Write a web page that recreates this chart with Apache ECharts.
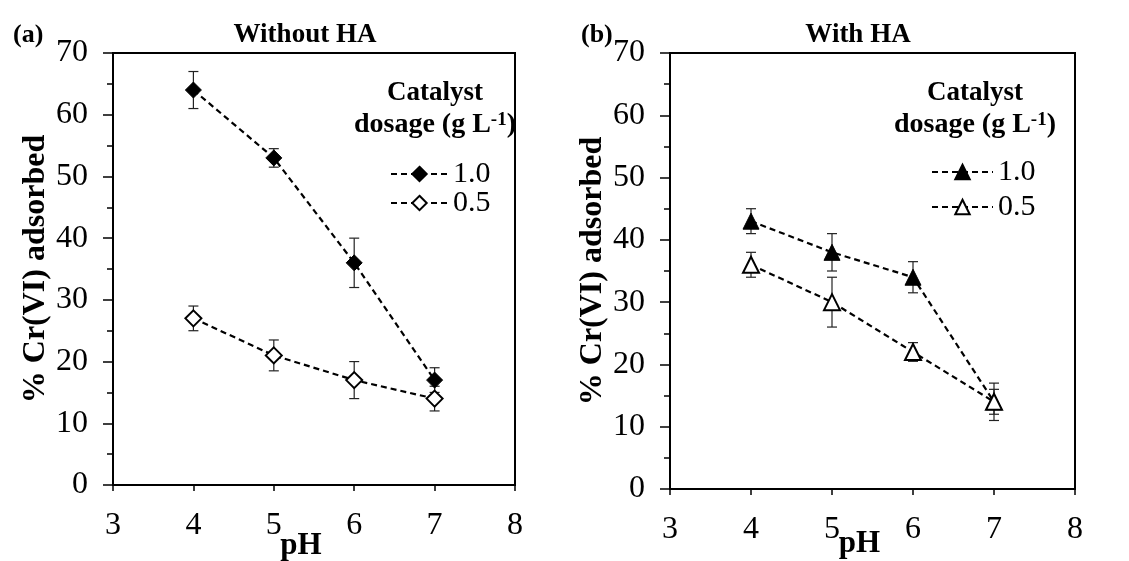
<!DOCTYPE html>
<html>
<head>
<meta charset="utf-8">
<script src="https://cdn.jsdelivr.net/npm/echarts@6/dist/echarts.min.js"></script>
<style>
  html, body { margin: 0; padding: 0; background: #fff; }
  #chart { width: 1129px; height: 561px; }
</style>
</head>
<body>
<div id="chart"></div>
<script>
// pH values shared by both panels
const pH = [4, 5, 6, 7];

// Panel (a): without humic acid, % Cr(VI) adsorbed and error half-widths
const noHA_1_0 = [64, 53, 36, 17];
const noHA_1_0_err = [3, 1.5, 4, 2];
const noHA_0_5 = [27, 21, 17, 14];
const noHA_0_5_err = [2, 2.5, 3, 2];

// Panel (b): with humic acid
const HA_1_0 = [43, 38, 34, 14];
const HA_1_0_err = [2, 3, 2.5, 3];
const HA_0_5 = [36, 30, 22, 14];
const HA_0_5_err = [2, 4, 1.5, 2];

// Legend labels (catalyst dosage, g/L)
const dosageLabels = ['1.0', '0.5'];

const FONT = '"Liberation Serif", "Times New Roman", serif';

function pairs(xs, ys) { return xs.map((x, i) => [x, ys[i]]); }

function errorBars(axisIdx, values, errs) {
  return {
    type: 'custom',
    xAxisIndex: axisIdx,
    yAxisIndex: axisIdx,
    silent: true,
    z: 1,
    encode: { x: 0, y: [1, 2] },
    data: pH.map((x, i) => [x, values[i] - errs[i], values[i] + errs[i]]),
    renderItem: function (params, api) {
      const x = api.value(0);
      const lo = api.coord([x, api.value(1)]);
      const hi = api.coord([x, api.value(2)]);
      const w = 5;
      const st = { stroke: '#222', lineWidth: 1.2 };
      return {
        type: 'group',
        children: [
          { type: 'line', shape: { x1: lo[0], y1: lo[1], x2: hi[0], y2: hi[1] }, style: st },
          { type: 'line', shape: { x1: lo[0] - w, y1: lo[1], x2: lo[0] + w, y2: lo[1] }, style: st },
          { type: 'line', shape: { x1: hi[0] - w, y1: hi[1], x2: hi[0] + w, y2: hi[1] }, style: st }
        ]
      };
    }
  };
}

function lineSeries(name, axisIdx, values, symbol, filled) {
  return {
    name: name,
    type: 'line',
    xAxisIndex: axisIdx,
    yAxisIndex: axisIdx,
    data: pairs(pH, values),
    symbol: symbol,
    symbolSize: 16,
    z: 3,
    lineStyle: { color: '#000', width: 2.2, type: [6, 4] },
    itemStyle: filled
      ? { color: '#000', borderColor: '#000', borderWidth: 1 }
      : { color: '#fff', borderColor: '#000', borderWidth: 2 },
    emphasis: { disabled: true }
  };
}

function xAxis(gridIndex, gap) {
  return {
    type: 'value', gridIndex: gridIndex, min: 3, max: 8, interval: 1,
    name: 'pH', nameLocation: 'middle', nameGap: gap, nameMoveOverlap: false,
    nameTextStyle: { fontFamily: FONT, fontSize: 31, fontWeight: 'bold', color: '#000', padding: [0, 26, 0, 0] },
    axisLine: { lineStyle: { color: '#000', width: 2 } },
    axisTick: { length: 6, lineStyle: { color: '#000', width: 1.5 } },
    axisLabel: { fontFamily: FONT, fontSize: 32, color: '#000', margin: 25 },
    splitLine: { show: false }
  };
}

function yAxis(gridIndex, gap) {
  return {
    type: 'value', gridIndex: gridIndex, min: 0, max: 70, interval: 10,
    name: '% Cr(VI) adsorbed', nameLocation: 'middle', nameGap: gap, nameRotate: 90,
    nameTextStyle: { fontFamily: FONT, fontSize: 32, fontWeight: 'bold', color: '#000' },
    axisLine: { lineStyle: { color: '#000', width: 2 } },
    axisTick: { length: 10, lineStyle: { color: '#000', width: 1.5 } },
    minorTick: { show: true, splitNumber: 2, length: 6, lineStyle: { color: '#000', width: 1.5 } },
    axisLabel: { fontFamily: FONT, fontSize: 32, color: '#000', margin: 25 },
    splitLine: { show: false },
    minorSplitLine: { show: false }
  };
}

function headerTitles(cx) {
  const rich = {
    b: { fontFamily: FONT, fontSize: 28, fontWeight: 'bold', color: '#000' },
    s: { fontFamily: FONT, fontSize: 19, fontWeight: 'bold', color: '#000', verticalAlign: 'top' }
  };
  return [
    { text: 'Catalyst', left: cx, top: 75, textAlign: 'center',
      textStyle: { fontFamily: FONT, fontSize: 27, fontWeight: 'bold', color: '#000' } },
    { text: '{b|dosage (g L}{s|-1}{b|)}', left: cx, top: 106, textAlign: 'center',
      textStyle: { rich: rich } }
  ];
}

const titleStyle = { fontFamily: FONT, fontSize: 27, fontWeight: 'bold', color: '#000' };
const labelStyle = { fontFamily: FONT, fontSize: 26, fontWeight: 'bold', color: '#000' };
const legendText = { fontFamily: FONT, fontSize: 30, color: '#000' };

const option = {
  backgroundColor: '#fff',
  animation: false,
  title: [
    { text: '(a)', left: 8, top: 17, textStyle: labelStyle },
    { text: 'Without HA', left: 300, top: 17, textAlign: 'center', textStyle: titleStyle },
    { text: '(b)', left: 576, top: 17, textStyle: labelStyle },
    { text: 'With HA', left: 853, top: 17, textAlign: 'center', textStyle: titleStyle }
  ].concat(headerTitles(430), headerTitles(970)),
  legend: [
    {
      data: ['Without HA ' + dosageLabels[0], 'Without HA ' + dosageLabels[1]],
      orient: 'vertical', left: 385, top: 154, itemWidth: 57, itemHeight: 18, itemGap: -1,
      formatter: n => n.replace('Without HA ', ''),
      textStyle: legendText,
      selectedMode: false
    },
    {
      data: ['With HA ' + dosageLabels[0], 'With HA ' + dosageLabels[1]],
      orient: 'vertical', left: 926, top: 152, itemWidth: 61, itemHeight: 18, itemGap: 5,
      formatter: n => n.replace('With HA ', ''),
      textStyle: legendText,
      selectedMode: false
    }
  ],
  grid: [
    { left: 113, right: 614, top: 53, bottom: 76, show: true, borderColor: '#000', borderWidth: 2,
      containLabel: false, outerBoundsMode: 'none' },
    { left: 670, right: 54, top: 53, bottom: 72, show: true, borderColor: '#000', borderWidth: 2,
      containLabel: false, outerBoundsMode: 'none' }
  ],
  xAxis: [xAxis(0, 45), xAxis(1, 39)],
  yAxis: [yAxis(0, 59), yAxis(1, 55)],
  series: [
    errorBars(0, noHA_1_0, noHA_1_0_err),
    errorBars(0, noHA_0_5, noHA_0_5_err),
    errorBars(1, HA_1_0, HA_1_0_err),
    errorBars(1, HA_0_5, HA_0_5_err),
    lineSeries('Without HA ' + dosageLabels[0], 0, noHA_1_0, 'diamond', true),
    lineSeries('Without HA ' + dosageLabels[1], 0, noHA_0_5, 'diamond', false),
    lineSeries('With HA ' + dosageLabels[0], 1, HA_1_0, 'triangle', true),
    lineSeries('With HA ' + dosageLabels[1], 1, HA_0_5, 'triangle', false)
  ]
};

const chart = echarts.init(document.getElementById('chart'), null, { renderer: 'canvas' });
chart.setOption(option);
</script>
</body>
</html>
